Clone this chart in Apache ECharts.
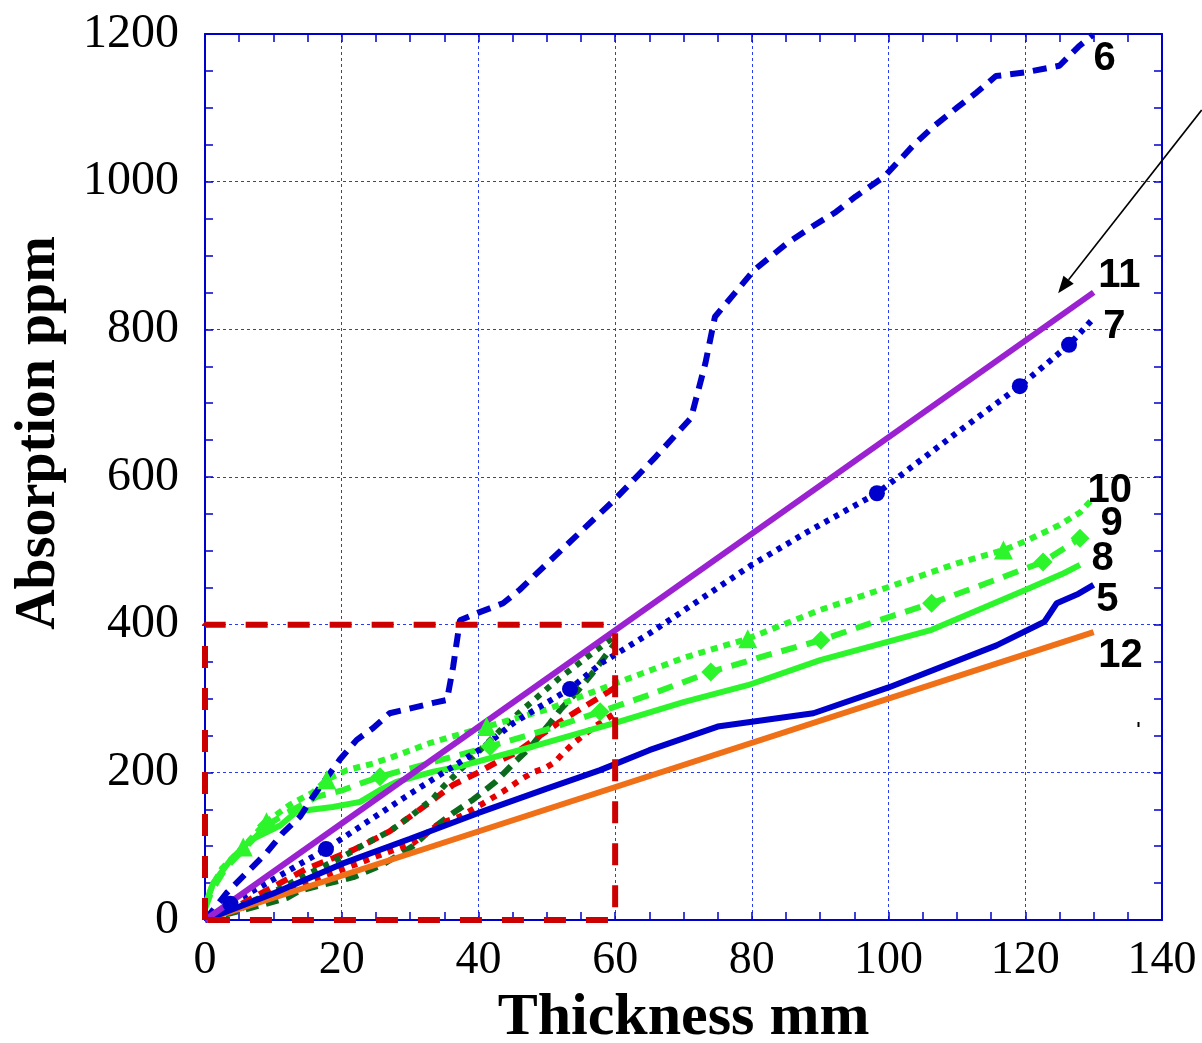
<!DOCTYPE html>
<html><head><meta charset="utf-8">
<script src="https://cdn.jsdelivr.net/npm/echarts@6/dist/echarts.min.js"></script>
<style>html,body{margin:0;padding:0;background:#fff;width:1202px;height:1043px;overflow:hidden}#c{position:absolute;left:0;top:0;width:1202px;height:1043px}</style>
</head><body><div id="c"></div>
<script>
// ---- data (thickness mm, absorption ppm) ----
const s5 = [[0,0],[10,36],[20,76],[30,110],[40,145],[50,178],[57.8,203],[65,230],[75,262],[89,280],[100,315],[115.8,372],[122.8,404],[124.6,429],[127.8,442],[130,454]];
const s6 = [[0,0],[3.2,37],[9,91],[11.4,118],[13.9,140],[15.8,167],[19.7,217],[22.2,244],[24.6,260],[27,280],[33.4,294],[35.4,298],[36.3,343],[37.3,406],[40.2,417],[43.6,429],[46,447],[52,500],[60,570],[66,628],[71.1,680],[73.2,754],[74.6,817],[77.5,849],[80.3,880],[85.2,917],[88.8,939],[92.3,959],[95.2,980],[99.4,1007],[103.7,1050],[106.5,1074],[110.1,1101],[112.9,1121],[115.7,1143],[120,1148],[125,1157],[127.8,1183],[129.9,1199]];
const s7 = [[0,0],[3.7,22],[10,55],[17.7,96],[28.5,162],[40.7,234],[45,266],[49,289],[53.4,313],[58,348],[65,388],[80,481],[88,525],[98.3,578],[110,660],[119.2,723],[126.4,779],[130,815]];
const s7Marks = [3.7,17.7,53.4,98.3,119.2,126.4];
const s8 = [[0,20],[1.2,50],[3.7,81],[6.6,108],[11,128],[13.4,147],[18.7,153],[22.7,160],[25.6,176],[28,187],[33.4,201],[37.3,208],[48,235],[60,267],[70,295],[79.4,318],[90,352],[106.3,393],[120,447],[125.7,470],[128,481]];
const s9 = [[0,15],[1,40],[3,70],[5.6,95],[9,128],[12,145],[16.4,167],[20.2,176],[23.1,186],[25.6,194],[33,213],[41.7,235],[50,258],[57.8,282],[65,305],[74,336],[82,358],[90.1,379],[98,404],[106.3,429],[114,455],[122.6,485],[128,517]];
const s9Marks = [9,25.6,41.7,57.8,74,90.1,106.3,122.6,128];
const s10 = [[0,20],[1,45],[2.5,70],[5.6,99],[9,133],[12.4,156],[15.8,173],[17.8,190],[20.8,203],[24.6,212],[27.5,221],[33,240],[41.2,262],[50,285],[60.2,321],[70,355],[79.4,381],[90,420],[100,451],[110,483],[116.8,501],[120,513],[125,535],[128,552],[129.9,571]];
const s10Marks = [5.6,9,17.8,41.2,79.4,116.8];
const s11 = [[0,0],[130,850]];
const s12 = [[0,0],[130,390]];
const darkGreenDotted = [[0,0],[5,18],[10,38],[15,62],[20,85],[24,106],[27,120],[30,140],[33.4,165],[34.8,180],[38.8,217],[43.2,257],[46.1,282],[49,305],[51.9,328],[54.9,349],[58.2,372],[60,385]];
const darkGreenDashed = [[0,0],[6.6,16],[12,30],[13.9,40],[21.7,58],[26,75],[30.4,100],[33,122],[36.3,145],[39.2,163],[42.5,187],[45.1,212],[47.5,233],[50.5,267],[52,285],[54.6,311],[57,338],[59,363],[60,375]];
const redDashed = [[0,0],[5,20],[10,45],[15,70],[18.8,84],[21.7,95],[24.1,106],[27,120],[30,140],[33.4,163],[36.3,183],[39.8,199],[42.7,214],[45.4,226],[48.6,247],[51.7,267],[54.6,284],[57.8,302],[60,315]];
const redDotted = [[0,0],[5,15],[10,32],[15,50],[20,68],[25,86],[30.4,104],[34.4,131],[37.3,140],[40.7,158],[43.6,174],[46.5,192],[48,200],[49.8,206],[51.2,214],[52.4,226],[54.1,241],[57,262],[60,280]];
const boxX = [0,0,60,60,0];
const boxY = [0,400,400,0,0];
const xRange = [0,140], xStep = 20;
const yRange = [0,1200], yStep = 200;
const arrowFrom = [145.8,1097], arrowTo = [124.8,849];

const BLUE='#0000cc', GREEN='#2cf52c', PURPLE='#9b22d0', ORANGE='#f07018', DKGREEN='#0b6a1c', RED='#e60000', BOXRED='#cc0000';

function items(arr, marks, sym){
  return arr.map(p => (marks && marks.indexOf(p[0])>=0) ? {value:p, symbol:sym} : {value:p, symbol:'none'});
}
function endLab(arr, txt, off){
  const last = arr[arr.length-1];
  return {symbol:'circle', symbolSize:1, itemStyle:{color:'rgba(0,0,0,0)'}, silent:true,
    data:[{coord:last, label:{show:true, formatter:txt, position:'right', distance:0, offset:off,
      color:'#000', fontFamily:'Liberation Sans, Arial, sans-serif', fontWeight:'bold', fontSize:40}}]};
}
function line(name, arr, color, dash, opts){
  return Object.assign({
    name, type:'line', data: arr.map(p=>({value:p,symbol:'none'})), showSymbol:true, symbol:'none',
    lineStyle:{color, width:6, type:dash, cap:'butt'}, itemStyle:{color},
    clip:false, animation:false, silent:true, z:3
  }, opts||{});
}

const series = [
  line('dgDash', darkGreenDashed, DKGREEN, [13,8], {z:2}),
  line('redDot', redDotted, RED, [6,7], {z:2}),
  line('redDash', redDashed, RED, [12,8], {z:2}),
  line('dgDot', darkGreenDotted, DKGREEN, [6,7], {z:2}),
  line('12', s12, ORANGE, 'solid', {markPoint: endLab(s12,'12',[4,24])}),
  line('5', s5, BLUE, 'solid', {markPoint: endLab(s5,'5',[2,15])}),
  line('8', s8, GREEN, 'solid', {markPoint: endLab(s8,'8',[11,-6])}),
  line('9', s9, GREEN, [16,10], {data: items(s9, s9Marks,'diamond'), symbolSize:19, markPoint: endLab(s9,'9',[20,-14])}),
  line('10', s10, GREEN, [7,6], {data: items(s10, s10Marks,'triangle'), symbolSize:19, markPoint: endLab(s10,'10',[-6,-7])}),
  line('7', s7, BLUE, [5,6], {data: items(s7, s7Marks,'circle'), symbolSize:16, markPoint: endLab(s7,'7',[9,9])}),
  line('6', s6, BLUE, [14,9], {markPoint: endLab(s6,'6',[0,24])}),
  line('11', s11, PURPLE, 'solid', {markPoint: endLab(s11,'11',[4,-16])}),
  line('box', boxX.map((x,i)=>[x,boxY[i]]), BOXRED, [22,20], {z:5})
];

const tickStyle = {show:true, inside:true, length:8, lineStyle:{color:BLUE, width:1.5}};
const minorStyle = {show:true, splitNumber:4, length:8, lineStyle:{color:BLUE, width:1.5}};
const axLine = {show:true, onZero:false, lineStyle:{color:BLUE, width:2}};
const grid = {show:true, lineStyle:{color:'#2a3cf0', width:1, type:[3,3]}};
const serif = 'Liberation Serif, Times New Roman, serif';
const nameFont = {color:'#000', fontFamily:serif, fontSize:56, fontWeight:'bold'};

const option = {
  animation:false,
  backgroundColor:'#fff',
  grid:{left:205, right:40, top:34, bottom:123, containLabel:false, outerBoundsMode:'none'},
  xAxis:[
    {type:'value', min:xRange[0], max:xRange[1], interval:xStep, position:'bottom',
     axisLine:axLine, axisTick:tickStyle, minorTick:minorStyle, splitLine:grid,
     axisLabel:{margin:18, color:'#000', fontFamily:serif, fontSize:46, formatter:v=>String(v)},
     name:'Thickness mm', nameLocation:'middle', nameGap:68, nameTextStyle:Object.assign({}, nameFont, {fontSize:60})},
    {type:'value', min:xRange[0], max:xRange[1], interval:xStep, position:'top',
     axisLine:axLine, axisTick:tickStyle, minorTick:minorStyle, splitLine:{show:false}, axisLabel:{show:false}}
  ],
  yAxis:[
    {type:'value', min:yRange[0], max:yRange[1], interval:yStep, position:'left',
     axisLine:axLine, axisTick:tickStyle, minorTick:minorStyle, splitLine:grid,
     axisLabel:{margin:26, color:'#000', fontFamily:serif, fontSize:48, formatter:v=>String(v)},
     name:'Absorption ppm', nameLocation:'middle', nameGap:137, nameRotate:90,
     nameTextStyle:Object.assign({padding:[0,0,0,88]}, nameFont)},
    {type:'value', min:yRange[0], max:yRange[1], interval:yStep, position:'right',
     axisLine:axLine, axisTick:tickStyle, minorTick:minorStyle, splitLine:{show:false}, axisLabel:{show:false}}
  ],
  series: series
};

const chart = echarts.init(document.getElementById('c'), null, {renderer:'canvas', width:1202, height:1043});
chart.setOption(option);

// annotation arrow pointing at curve 11
const p0 = chart.convertToPixel({gridIndex:0}, arrowFrom);
const p1 = chart.convertToPixel({gridIndex:0}, arrowTo);
const ang = Math.atan2(p1[1]-p0[1], p1[0]-p0[0]);
const hl = 17, hw = 6.5;
const bx = p1[0]-hl*Math.cos(ang), by = p1[1]-hl*Math.sin(ang);
const nx = -Math.sin(ang), ny = Math.cos(ang);
chart.setOption({graphic:[
  {type:'line', shape:{x1:p0[0], y1:p0[1], x2:bx, y2:by}, style:{stroke:'#000', lineWidth:1.6}, z:10},
  {type:'polygon', shape:{points:[[p1[0],p1[1]],[bx+nx*hw,by+ny*hw],[bx-nx*hw,by-ny*hw]]}, style:{fill:'#000'}, z:10},
  {type:'rect', shape:{x:1137.5, y:722, width:2, height:5}, style:{fill:'#000'}, z:10}
]});
</script>
</body></html>
